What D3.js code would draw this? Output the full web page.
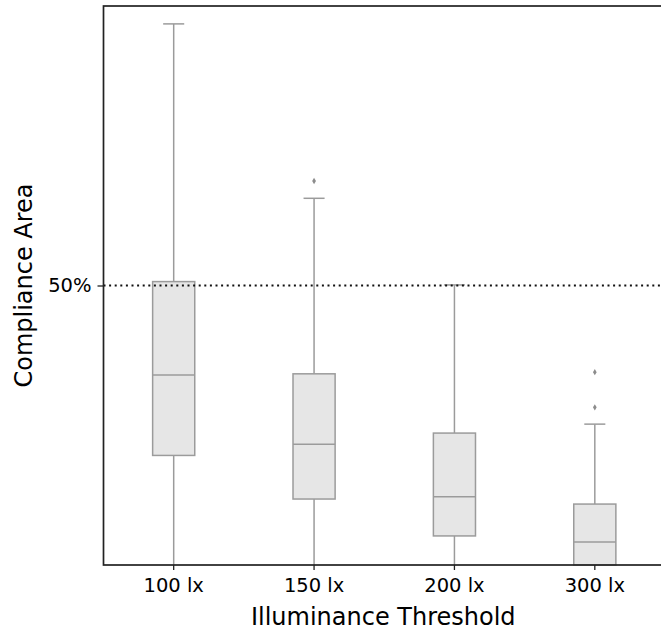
<!DOCTYPE html>
<html>
<head>
<meta charset="utf-8">
<script src="https://cdn.jsdelivr.net/npm/d3@7"></script>
<style>
  body { margin: 0; background: #fff; overflow: hidden; }
  svg { display: block; }
  svg text { font-family: "DejaVu Sans", sans-serif; fill: #000; }
</style>
</head>
<body>
<div id="chart"></div>
<script>
// box plot stats, compliance area in %
var categories = ["100 lx", "150 lx", "200 lx", "300 lx"];
var whiskerLow = [0, 0, 0, 0];
var q1 = [19.6, 11.8, 5.2, 0];
var median = [34.0, 21.6, 12.2, 4.1];
var q3 = [50.7, 34.2, 23.6, 10.9];
var whiskerHigh = [96.8, 65.6, 50.1, 25.2];
var outliers = [[], [68.7], [], [28.2, 34.5]];
var yTicks = [50];
var refLine = 50;

var width = 661, height = 633;
var pLeft = 103.5, pTop = 6, pRight = 665, pBottom = 565;

var svg = d3.select("#chart").append("svg")
  .attr("width", width)
  .attr("height", height);

var x = d3.scaleBand().domain(categories).range([pLeft, pRight]).padding(0);
var y = d3.scaleLinear().domain([0, 100]).range([pBottom, pTop]);

var bw = x.bandwidth();
var boxW = bw * 0.3;
var capW = boxW * 0.5;

var data = categories.map(function (c, i) {
  return { cat: c, lo: whiskerLow[i], q1: q1[i], med: median[i], q3: q3[i], hi: whiskerHigh[i], out: outliers[i] };
});

var boxColor = "#9b9b9b";

var g = svg.append("g").selectAll("g.box").data(data).enter().append("g").attr("class", "box");

// whiskers
g.append("line")
  .attr("x1", function (d) { return x(d.cat) + bw / 2; })
  .attr("x2", function (d) { return x(d.cat) + bw / 2; })
  .attr("y1", function (d) { return y(d.q3); })
  .attr("y2", function (d) { return y(d.hi); })
  .attr("stroke", boxColor).attr("stroke-width", 1.5);
g.append("line")
  .attr("x1", function (d) { return x(d.cat) + bw / 2; })
  .attr("x2", function (d) { return x(d.cat) + bw / 2; })
  .attr("y1", function (d) { return y(d.q1); })
  .attr("y2", function (d) { return y(d.lo); })
  .attr("stroke", boxColor).attr("stroke-width", 1.5);
// caps
g.append("line")
  .attr("x1", function (d) { return x(d.cat) + bw / 2 - capW / 2; })
  .attr("x2", function (d) { return x(d.cat) + bw / 2 + capW / 2; })
  .attr("y1", function (d) { return y(d.hi); })
  .attr("y2", function (d) { return y(d.hi); })
  .attr("stroke", boxColor).attr("stroke-width", 1.5);

// boxes
g.append("rect")
  .attr("x", function (d) { return x(d.cat) + bw / 2 - boxW / 2; })
  .attr("y", function (d) { return y(d.q3); })
  .attr("width", boxW)
  .attr("height", function (d) { return y(d.q1) - y(d.q3); })
  .attr("fill", "#e6e6e6")
  .attr("stroke", boxColor).attr("stroke-width", 1.5);
// medians
g.append("line")
  .attr("x1", function (d) { return x(d.cat) + bw / 2 - boxW / 2; })
  .attr("x2", function (d) { return x(d.cat) + bw / 2 + boxW / 2; })
  .attr("y1", function (d) { return y(d.med); })
  .attr("y2", function (d) { return y(d.med); })
  .attr("stroke", boxColor).attr("stroke-width", 1.5);

// outliers (diamonds)
g.each(function (d) {
  d3.select(this).selectAll("path.out").data(d.out).enter().append("path")
    .attr("class", "out")
    .attr("d", d3.symbol().type(d3.symbolDiamond).size(12))
    .attr("transform", function (v) { return "translate(" + (x(d.cat) + bw / 2) + "," + y(v) + ")"; })
    .attr("fill", "#8c8c8c");
});

// 50% reference line
svg.append("line")
  .attr("x1", pLeft).attr("x2", pRight)
  .attr("y1", y(refLine)).attr("y2", y(refLine))
  .attr("stroke", "#111").attr("stroke-width", 1.8)
  .attr("stroke-dasharray", "2,3.6");

// axes
var xAxis = d3.axisBottom(x).tickSize(5).tickPadding(8);
var yAxis = d3.axisLeft(y).tickValues(yTicks).tickSize(6).tickPadding(6)
  .tickFormat(function (d) { return d + "%"; });

var gx = svg.append("g").attr("transform", "translate(0," + pBottom + ")").call(xAxis);
var gy = svg.append("g").attr("transform", "translate(" + pLeft + ",0)").call(yAxis);
[gx, gy].forEach(function (a) {
  a.select(".domain").remove();
  a.selectAll(".tick line").attr("stroke", "#222").attr("stroke-width", 1.3);
  a.selectAll(".tick text").style("font-size", "19.5px").attr("fill", "#000");
});

// frame
svg.append("rect")
  .attr("x", pLeft).attr("y", pTop)
  .attr("width", pRight - pLeft).attr("height", pBottom - pTop)
  .attr("fill", "none").attr("stroke", "#222").attr("stroke-width", 1.7);

// axis titles
svg.append("text")
  .attr("x", (pLeft + pRight) / 2 - 1).attr("y", 625)
  .attr("text-anchor", "middle")
  .style("font-size", "24px")
  .text("Illuminance Threshold");

svg.append("text")
  .attr("transform", "translate(32," + ((pTop + pBottom) / 2) + ") rotate(-90)")
  .attr("text-anchor", "middle")
  .style("font-size", "24px")
  .text("Compliance Area");
</script>
</body>
</html>
